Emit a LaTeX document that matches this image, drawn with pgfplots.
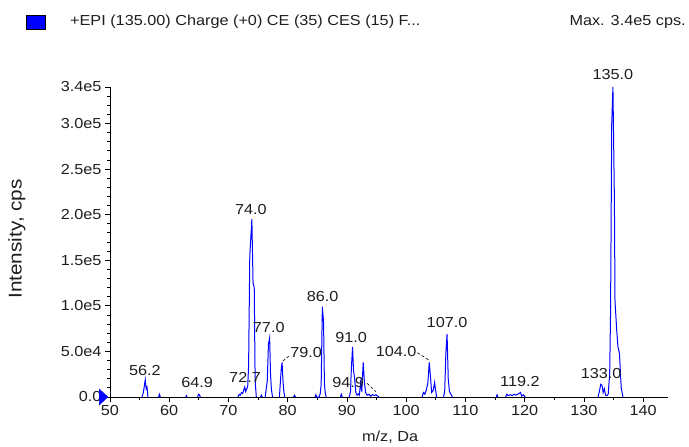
\documentclass[border=0pt]{standalone}
\usepackage{pgfplots}
\pgfplotsset{compat=1.18}
\usepackage{pgfplotstable}
\usepackage{fontspec}
\setmainfont{Liberation Sans}[FakeStretch=1.12]
\newcommand\f{\fontsize{14.5}{17}\selectfont}
\definecolor{txt}{RGB}{30,30,30}
\pgfdeclareplotmark{rtri}{%
  \pgfpathmoveto{\pgfpoint{-4.5pt}{8pt}}%
  \pgfpathlineto{\pgfpoint{4pt}{0pt}}%
  \pgfpathlineto{\pgfpoint{-4.5pt}{-8pt}}%
  \pgfpathclose\pgfusepathqfillstroke}
\pgfplotstableread{
x y
55.4 0
55.6 4000
55.8 12000
55.95 19000
56.1 9000
56.25 11000
56.4 0
nan nan
58.2 0
58.35 3000
58.5 0
nan nan
62.8 0
62.9 1500
63.0 0
nan nan
64.8 0
64.95 3000
65.1 2500
65.25 0
nan nan
71.6 0
71.8 3000
72.0 2000
72.2 5000
72.4 4000
72.6 8000
72.75 11000
72.9 6000
73.1 9000
73.25 12000
73.4 34000
73.6 155000
73.95 195000
74.15 125000
74.35 120000
74.5 18000
74.7 0
nan nan
75.4 0
75.55 2000
75.7 0
nan nan
76.2 0
76.4 10000
76.55 18000
76.75 58000
76.95 65000
77.1 25000
77.25 8000
77.45 0
nan nan
78.6 0
78.75 15000
78.9 30000
79.05 38000
79.2 18000
79.35 6000
79.5 0
nan nan
81.0 0
81.15 2000
81.3 0
nan nan
84.6 0
84.75 2500
84.9 0
85.3 0
85.5 4000
85.65 14000
85.85 99000
86.05 82000
86.2 14000
86.35 4000
86.5 0
nan nan
88.9 0
89.05 3000
89.2 0
nan nan
90.4 0
90.6 6000
90.75 32000
90.95 55000
91.1 30000
91.3 20000
91.5 5000
91.7 2000
91.9 3500
92.1 2000
92.3 16000
92.5 6000
92.75 38000
92.95 16000
93.15 5000
93.4 2000
93.7 3000
94.0 1000
94.3 2500
94.6 1500
94.9 2500
95.2 1000
95.4 0
nan nan
102.7 0
102.9 5000
103.15 3000
103.4 8000
103.65 15000
103.9 38000
104.1 22000
104.3 5000
104.55 7000
104.8 16000
104.95 8000
105.15 0
nan nan
106.3 0
106.5 6000
106.7 48000
106.9 69000
107.1 20000
107.3 6000
107.55 3000
107.8 0
nan nan
115.2 0
115.35 2500
115.5 0
nan nan
116.8 0
117.0 3000
117.2 1500
117.6 2500
117.9 1500
118.2 3000
118.5 2000
118.8 3000
119.1 4000
119.3 5000
119.5 1000
119.8 2500
120.1 0
nan nan
132.4 0
132.6 6000
132.85 14000
133.05 13000
133.25 5000
133.45 9000
133.65 2000
133.9 1500
134.1 3000
134.35 25000
134.5 93000
134.7 300000
134.9 340000
135.15 215000
135.25 105000
135.55 72000
135.75 55000
136.0 48000
136.3 10000
136.6 0
}\spectrum
\begin{document}
\begin{tikzpicture}
\begin{axis}[
  scale only axis, width=558pt, height=310pt,
  xmin=50, xmax=144.2, ymin=0, ymax=340000,
  axis lines=left, axis line style={-, line width=0.9pt, black},
  xtick={50,60,...,140}, minor xtick={55,65,...,135},
  ytick={0,50000,100000,150000,200000,250000,300000,340000},
  yticklabels={0.0,5.0e4,1.0e5,1.5e5,2.0e5,2.5e5,3.0e5,3.4e5},
  minor ytick={10000,20000,...,330000},
  xticklabels={50,60,70,80,90,100,110,120,130,140},
  tick align=outside, major tick length=5pt, minor tick length=3pt,
  tick style={black, line width=0.8pt},
  scaled ticks=false,
  /pgf/number format/assume math mode=true,
  tick label style={font=\f, text=txt},
  xlabel={m/z, Da}, ylabel={Intensity, cps},
  xlabel style={font=\f, text=txt, at={(axis description cs:0.502,-0.129)}, anchor=center},
  ylabel style={font=\fontsize{18.5}{20}\selectfont, text=txt, at={(axis description cs:-0.167,0.51)}, anchor=center},
  clip=false,
]
\path (axis description cs:-0.1971,-0.1548) rectangle (axis description cs:1.0376,1.2806);
\addplot[blue, line width=1.0pt, unbounded coords=jump] table[x=x,y=y] {\spectrum};
\addplot[only marks, mark=rtri, mark options={fill=blue, draw=blue, line width=0.5pt}] coordinates {(48.95,0)};
% header
\node[draw=black, fill=blue, minimum width=19pt, minimum height=14pt, inner sep=0pt] at (axis description cs:-0.1335,1.21) {};
\node[anchor=west, font=\f, text=txt, inner sep=0pt] at (axis description cs:-0.0717,1.21) {+EPI (135.00) Charge (+0) CE (35) CES (15) F...};
\node[anchor=east, font=\f, text=txt, inner sep=0pt] at (axis description cs:1.032,1.21) {Max. 3.4e5 cps.};
% peak labels
\begin{scope}[every node/.style={font=\f, text=txt, inner sep=0pt}]
\node at (axis cs:55.9,29600) {56.2};
\node at (axis cs:64.7,15400) {64.9};
\node at (axis cs:72.8,21900) {72.7};
\node at (axis cs:73.8,206000) {74.0};
\node at (axis cs:76.8,75700) {77.0};
\node at (axis cs:83.1,48300) {79.0};
\node at (axis cs:85.9,109700) {86.0};
\node at (axis cs:90.7,65800) {91.0};
\node at (axis cs:90.2,15400) {94.9};
\node at (axis cs:98.3,49400) {104.0};
\node at (axis cs:106.9,81200) {107.0};
\node at (axis cs:119.2,16500) {119.2};
\node at (axis cs:132.9,26300) {133.0};
\node at (axis cs:134.9,353200) {135.0};
\end{scope}
\draw[densely dashed, line width=0.6pt, black] (axis cs:80.2,45000) -- (axis cs:79.1,39000);
\draw[densely dashed, line width=0.6pt, black] (axis cs:93.4,15000) -- (axis cs:94.9,5800);
\draw[densely dashed, line width=0.6pt, black] (axis cs:101.9,48600) -- (axis cs:104.0,39800);
\end{axis}
\end{tikzpicture}
\end{document}
